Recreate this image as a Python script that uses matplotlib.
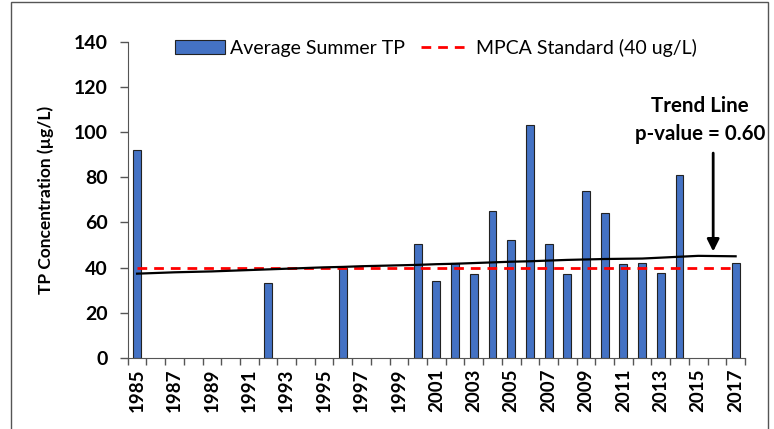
import numpy as np
import matplotlib.pyplot as plt
from matplotlib.patches import Rectangle

plt.rcParams['font.family'] = ['Lato', 'DejaVu Sans']

# data
years = list(range(1985, 2018))
tp_years = [1985, 1992, 1996, 2000, 2001, 2002, 2003, 2004, 2005, 2006, 2007,
            2008, 2009, 2010, 2011, 2012, 2013, 2014, 2017]
tp_values = [92.0, 33.2, 39.9, 50.5, 34.1, 42.1, 37.3, 64.9, 52.3, 103.0, 50.5,
             37.3, 74.1, 64.4, 41.5, 42.1, 37.8, 81.2, 42.1]
trend = [37.3, 37.6, 37.9, 38.1, 38.3, 38.6, 38.9, 39.2, 39.5, 39.8, 40.1,
         40.3, 40.6, 40.8, 41.0, 41.2, 41.5, 41.7, 42.0, 42.3, 42.6, 42.8,
         43.1, 43.4, 43.6, 43.8, 43.9, 44.0, 44.4, 44.8, 45.2, 45.1, 45.0]
standard = 40
label_years = [str(y) for y in years[::2]]

fig = plt.figure(figsize=(7.74, 4.29), dpi=100)
ax = fig.add_axes([0.165, 0.166, 0.7975, 0.736])

idx = {y: i for i, y in enumerate(years)}
xb = [idx[y] for y in tp_years]
bars = ax.bar(xb, tp_values, width=0.42, color='#4472C4', edgecolor='#222222',
              linewidth=0.8, label='Average Summer TP', zorder=2)
std_line, = ax.plot(range(len(years)), [standard] * len(years), color='red',
                    ls=(0, (3.5, 2.5)), lw=2, label='MPCA Standard (40 ug/L)', zorder=3)
ax.plot(range(len(years)), trend, color='black', lw=1.6, zorder=4)

ax.set_xlim(-0.5, len(years) - 0.5)
ax.set_ylim(0, 140)
ax.set_yticks(range(0, 141, 20))
ax.set_xticks(range(0, len(years), 2))
ax.set_xticklabels(label_years, rotation=90, fontweight='bold', fontsize=13.5)
ax.set_xticks(np.arange(-0.5, len(years), 1), minor=True)
ax.tick_params(axis='x', which='major', length=0, pad=8)
ax.tick_params(axis='x', which='minor', length=5, width=1, color='#555555')
ax.tick_params(axis='y', length=5.5, width=1, color='#555555', labelsize=14, pad=9)
for t in ax.get_yticklabels():
    t.set_fontweight('bold')
ax.spines['top'].set_visible(False)
ax.spines['right'].set_visible(False)
ax.spines['left'].set_color('#555555')
ax.spines['bottom'].set_color('#555555')
ax.set_ylabel('TP Concentration (µg/L)', fontweight='bold', fontsize=12.5, labelpad=14)

ax.legend([bars, std_line], ['Average Summer TP', 'MPCA Standard (40 ug/L)'],
          loc='center left', bbox_to_anchor=(0.076, 0.981), ncol=2, frameon=False,
          fontsize=14, handlelength=2.6, handletextpad=0.25, columnspacing=0.8,
          borderpad=0, borderaxespad=0)

ax.annotate('', xy=(30.8, 45.9), xytext=(30.8, 92),
            arrowprops=dict(arrowstyle='-|>', color='black', lw=2, mutation_scale=18))
ax.text(30.1, 111.6, 'Trend Line', ha='center', va='center', fontweight='bold', fontsize=14.8)
ax.text(30.1, 99.4, 'p-value = 0.60', ha='center', va='center', fontweight='bold', fontsize=14.8)

fig.add_artist(Rectangle((11 / 774, -0.05), 757 / 774, 1.05 - 2 / 429,
                         transform=fig.transFigure, fill=False, ec='#555555', lw=1))

fig.savefig('out.png', dpi=100)
